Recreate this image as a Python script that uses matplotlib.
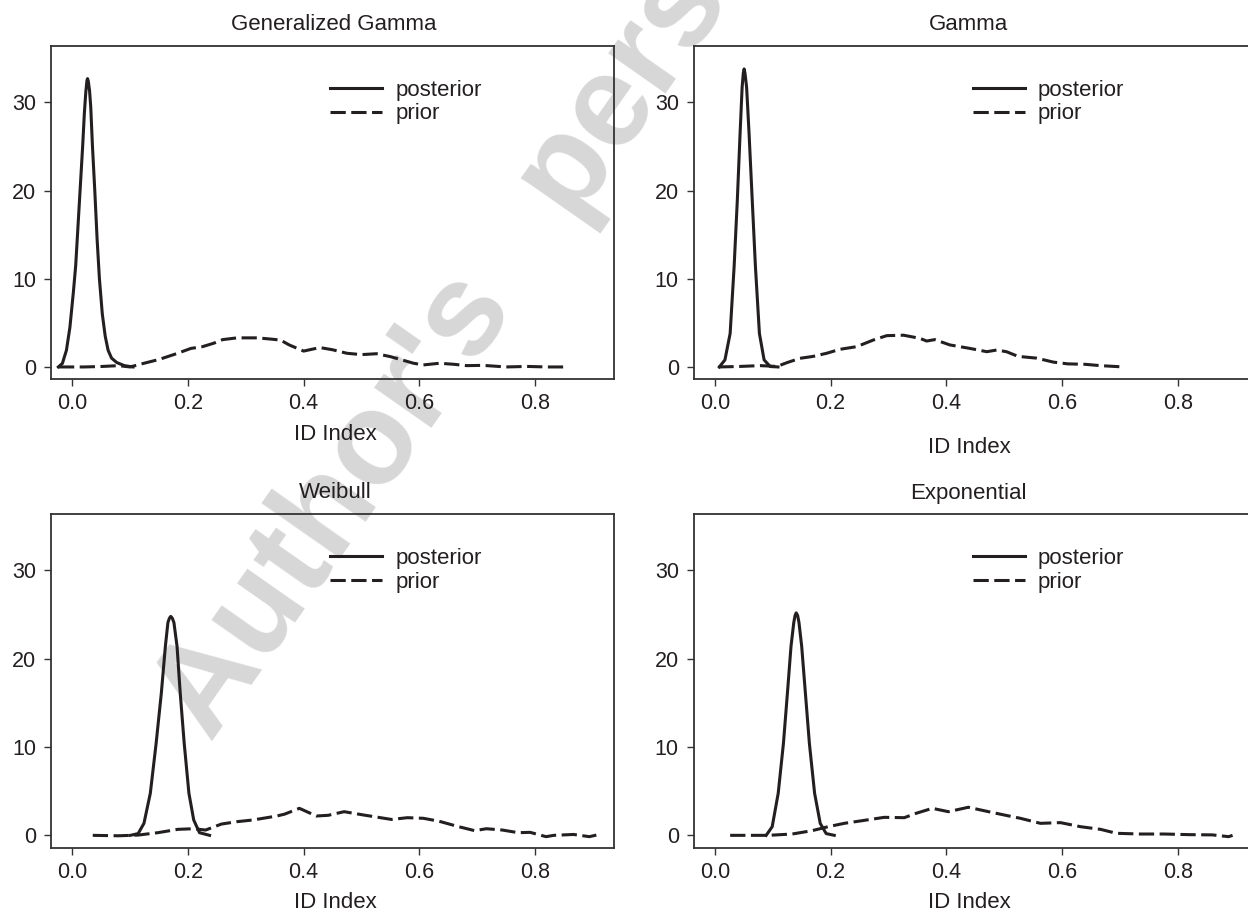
import matplotlib
matplotlib.use("Agg")
import matplotlib.pyplot as plt

plt.rcParams['font.family'] = ['Liberation Sans', 'DejaVu Sans']

INK = '#231f20'

# --- Daten ---
titles = ["Generalized Gamma", "Gamma", "Weibull", "Exponential"]
legend_labels = ["posterior", "prior"]
x_ticks = [0.0, 0.2, 0.4, 0.6, 0.8]
x_ticklabels = ["0.0", "0.2", "0.4", "0.6", "0.8"]
y_ticks = [0, 10, 20, 30]
x_label = "ID Index"
watermark = "Author's\u2002 personal copy"

# Generalized Gamma
gg_post_x = [-0.024, -0.017, -0.010, -0.004, 0.002, 0.006, 0.010, 0.014, 0.018, 0.021,
             0.0235, 0.0255, 0.0265, 0.0278, 0.030, 0.032, 0.035, 0.039, 0.043, 0.047,
             0.052, 0.057, 0.062, 0.068, 0.077, 0.090, 0.105]
gg_post_y = [0, 0.4, 1.9, 4.5, 8.5, 11.5, 16, 20.5, 25, 28.8,
             31.2, 32.5, 32.7, 32.4, 31.3, 29.5, 25, 20, 14.5, 10,
             6, 3.5, 1.9, 1.0, 0.5, 0.15, 0]
gg_prior_x = [-0.023, 0.02, 0.05, 0.08, 0.10, 0.12, 0.15, 0.18, 0.205, 0.225,
              0.245, 0.26, 0.285, 0.32, 0.345, 0.36, 0.375, 0.40, 0.428, 0.45,
              0.475, 0.50, 0.526, 0.55, 0.57, 0.59, 0.607, 0.635, 0.66, 0.682,
              0.71, 0.75, 0.786, 0.82, 0.85]
gg_prior_y = [0, 0.0, 0.05, 0.15, 0.0, 0.35, 0.85, 1.5, 2.1, 2.3,
              2.7, 3.1, 3.3, 3.3, 3.15, 3.05, 2.5, 1.8, 2.2, 1.95,
              1.55, 1.4, 1.5, 1.17, 0.8, 0.42, 0.23, 0.42, 0.3, 0.15,
              0.18, 0.0, 0.06, 0.0, 0.0]

# Gamma
ga_post_x = [0.0076, 0.0173, 0.0263, 0.0332, 0.0387, 0.0435, 0.047, 0.049, 0.0505,
             0.052, 0.0548, 0.059, 0.0645, 0.070, 0.0769, 0.085, 0.0955, 0.109]
ga_post_y = [0, 0.8, 3.8, 11.4, 18.9, 26.5, 31.7, 33.3, 33.8,
             33.3, 31.7, 26.5, 18.9, 11.4, 3.8, 0.8, 0.05, 0]
ga_prior_x = [0.006, 0.04, 0.078, 0.095, 0.107, 0.125, 0.147, 0.17, 0.193, 0.216,
              0.245, 0.274, 0.297, 0.326, 0.354, 0.366, 0.38, 0.406, 0.441, 0.47,
              0.487, 0.504, 0.524, 0.556, 0.585, 0.61, 0.64, 0.666, 0.707]
ga_prior_y = [0, 0.05, 0.15, 0.1, 0.05, 0.5, 0.98, 1.2, 1.55, 2.0,
              2.3, 3.06, 3.55, 3.6, 3.25, 2.94, 3.1, 2.5, 2.1, 1.73,
              1.92, 1.73, 1.2, 1.0, 0.55, 0.35, 0.3, 0.15, 0]

# Weibull
we_post_x = [0.1005, 0.114, 0.124, 0.135, 0.145, 0.154, 0.161, 0.1654, 0.168, 0.1703,
             0.173, 0.1758, 0.1812, 0.1867, 0.1936, 0.2017, 0.210, 0.220, 0.2374]
we_post_y = [0, 0.2, 1.36, 4.77, 10.4, 16.1, 21.4, 24.1, 24.6, 24.8,
             24.6, 24.1, 21.4, 16.1, 10.4, 4.77, 1.74, 0.3, 0]
we_prior_x = [0.0355, 0.080, 0.114, 0.148, 0.1826, 0.210, 0.2305, 0.258, 0.285, 0.3125,
              0.3537, 0.367, 0.3927, 0.422, 0.4426, 0.470, 0.504, 0.552, 0.5794, 0.607,
              0.634, 0.668, 0.6957, 0.716, 0.7436, 0.771, 0.7915, 0.819, 0.8325, 0.8666,
              0.894, 0.906]
we_prior_y = [0, -0.05, 0.03, 0.3, 0.68, 0.75, 0.6, 1.28, 1.55, 1.74,
              2.19, 2.4, 3.06, 2.19, 2.27, 2.68, 2.3, 1.8, 2.0, 1.93,
              1.6, 0.98, 0.53, 0.75, 0.6, 0.3, 0.34, -0.15, 0, 0.1,
              -0.15, 0.03]

# Exponential
ex_post_x = [0.0886, 0.099, 0.1094, 0.1184, 0.1253, 0.1315, 0.1363, 0.1385, 0.1405,
             0.143, 0.1453, 0.150, 0.1564, 0.1633, 0.1723, 0.182, 0.1923, 0.2063]
ex_post_y = [0, 0.98, 4.77, 10.4, 16.1, 21.4, 24.1, 24.9, 25.2,
             24.9, 24.1, 21.4, 16.1, 10.4, 4.77, 1.36, 0.2, 0]
ex_prior_x = [0.0263, 0.092, 0.1336, 0.168, 0.1958, 0.2236, 0.2513, 0.2927, 0.3273, 0.348,
              0.3758, 0.4035, 0.438, 0.473, 0.5004, 0.528, 0.5627, 0.5972, 0.632, 0.6665,
              0.694, 0.7356, 0.7773, 0.8187, 0.860, 0.888, 0.8948]
ex_prior_y = [0, 0, 0.15, 0.53, 0.98, 1.36, 1.63, 2.04, 2.0, 2.5,
              3.06, 2.68, 3.18, 2.68, 2.3, 1.93, 1.36, 1.44, 0.98, 0.68,
              0.23, 0.15, 0.15, 0.08, 0.05, -0.15, 0]

posteriors = [(gg_post_x, gg_post_y), (ga_post_x, ga_post_y),
              (we_post_x, we_post_y), (ex_post_x, ex_post_y)]
priors = [(gg_prior_x, gg_prior_y), (ga_prior_x, ga_prior_y),
          (we_prior_x, we_prior_y), (ex_prior_x, ex_prior_y)]

W, H = 1248, 916
fig = plt.figure(figsize=(W / 100, H / 100), dpi=100)


def px(x, y):
    return x / W, 1 - y / H


# Wasserzeichen (liegt hinter den Achsen)
wx, wy = px(211, 744)
fig.text(wx, wy, watermark, rotation=55, rotation_mode='anchor',
         ha='left', va='baseline', fontsize=94, fontweight='bold',
         color='#d7d7d7', zorder=-5)

# Achsen-Positionen in Pixel (links, oben, rechts, unten)
boxes = [(51.4, 46, 613.7, 379.3), (694.1, 46, 1256.4, 379.3),
         (51.4, 514, 613.7, 847.7), (694.1, 514, 1256.4, 847.7)]
title_pos = [(334, 25), (968.5, 25), (335, 493), (968.5, 493)]
xlabel_pos = [(335, 435), (969, 447), (335, 903), (969, 903)]

for i in range(4):
    l, t, r, b = boxes[i]
    ax = fig.add_axes([l / W, 1 - b / H, (r - l) / W, (b - t) / H])
    ax.patch.set_alpha(0)
    ax.plot(posteriors[i][0], posteriors[i][1], color=INK, lw=2.2,
            solid_joinstyle='round', label=legend_labels[0])
    ax.plot(priors[i][0], priors[i][1], color=INK, lw=2.2,
            dashes=(5.0, 1.8), label=legend_labels[1])
    ax.set_xlim(-0.036, 0.936)
    ax.set_ylim(-1.4, 36.4)
    ax.set_xticks(x_ticks)
    ax.set_xticklabels(x_ticklabels)
    ax.set_yticks(y_ticks)
    ax.tick_params(direction='out', length=5, width=1.0, color='#333333',
                   labelsize=15.5, labelcolor=INK, pad=5)
    ax.tick_params(axis='y', pad=6)
    for s in ax.spines.values():
        s.set_linewidth(1.3)
        s.set_color('#333333')
    ax.legend(loc='center left', bbox_to_anchor=(0.496, 0.832), frameon=False,
              fontsize=16, handlelength=2.33, handletextpad=0.59,
              labelspacing=0.13, borderpad=0, borderaxespad=0,
              labelcolor=INK)

    tx, ty = px(*title_pos[i])
    fig.text(tx, ty, titles[i], ha='center', va='center', fontsize=16, color=INK)
    lx, ly = px(*xlabel_pos[i])
    fig.text(lx, ly, x_label, ha='center', va='center', fontsize=16, color=INK)

fig.savefig("out.png", dpi=100, facecolor='white')
